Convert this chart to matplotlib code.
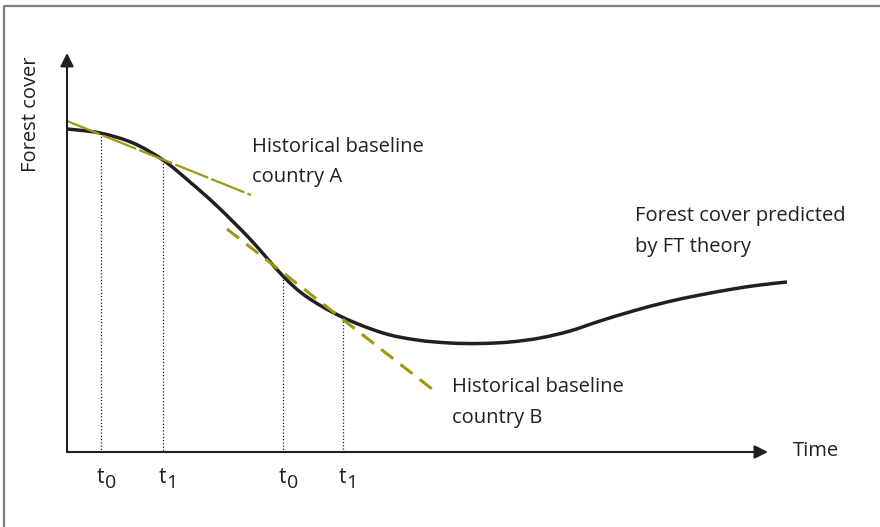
#!/usr/bin/env python3
# Forest transition sketch: forest cover over time with two historical baselines
import numpy as np
import matplotlib
matplotlib.use('Agg')
import matplotlib.pyplot as plt
from matplotlib.path import Path
from matplotlib.patches import PathPatch

# curve (x = time, y = cover, in picture units, y grows downward)
time_pts  = [67, 100, 133, 163, 190, 217, 250, 283, 307, 342, 383, 417, 450,
             480, 510, 540, 570, 600, 633, 667, 700, 733, 760, 787]
cover_pts = [129, 133, 143, 160, 182, 206, 239, 276, 297, 317, 333, 340, 343,
             343.5, 342, 338, 331, 321, 311, 302, 295, 289, 285, 282]

# baselines (start / end points of the dashed lines)
base_a_t = [67, 251]
base_a_c = [121, 195]
base_b_t = [227, 432]
base_b_c = [229, 389]

# reference times, the cover there, and their labels
t_marks = [101, 163, 283, 343]
t_cover = [133, 160, 276, 318]
t_subs = ['0', '1', '0', '1']

axis_y = 452
axis_x = 67
ink = '#231f20'
olive = '#9c9a10'


def smooth_path(xs, ys):
    # catmull-rom through the points, drawn as cubic bezier segments
    p = np.column_stack([xs, ys]).astype(float)
    verts = [p[0]]
    codes = [Path.MOVETO]
    n = len(p)
    for i in range(n - 1):
        p0 = p[i - 1] if i > 0 else p[i]
        p3 = p[i + 2] if i + 2 < n else p[i + 1]
        c1 = p[i] + (p[i + 1] - p0) / 6
        c2 = p[i + 1] - (p3 - p[i]) / 6
        verts += [c1, c2, p[i + 1]]
        codes += [Path.CURVE4] * 3
    return Path(verts, codes)


plt.rcParams['font.family'] = ['Open Sans', 'DejaVu Sans']

fig = plt.figure(figsize=(8.8, 5.27), dpi=100)
ax = fig.add_axes([0, 0, 1, 1])
ax.set_xlim(0, 880)
ax.set_ylim(527, 0)
ax.axis('off')

# frame (left and top visible)
ax.plot([4, 4, 880], [527, 6, 6], color='#808080', lw=1.6, solid_capstyle='butt')

# axes with arrow heads
arr = dict(arrowstyle='-|>', lw=1.5, mutation_scale=20, color=ink, shrinkA=0, shrinkB=0)
ax.annotate('', xy=(768, axis_y), xytext=(axis_x, axis_y), arrowprops=arr)
ax.annotate('', xy=(axis_x, 53), xytext=(axis_x, axis_y), arrowprops=arr)

# dotted drop lines
ax.vlines(t_marks, t_cover, axis_y, colors=ink, lw=0.9, linestyles=(0, (1, 1.6)))

# baselines
ax.plot(base_a_t, base_a_c, color=olive, lw=1.6, ls=(0, (16, 1.5)))
ax.plot(base_b_t, base_b_c, color=olive, lw=2.2, ls=(0, (5, 3)))

# forest cover curve
ax.add_patch(PathPatch(smooth_path(time_pts, cover_pts), facecolor='none',
                       edgecolor=ink, lw=2.5, capstyle='butt', joinstyle='round'))

fs = 14.5
for x, sub in zip(t_marks, t_subs):
    ax.text(x + 3, 483, 't', fontsize=15, color=ink, ha='right', va='baseline')
    ax.text(x + 3.5, 488, sub, fontsize=14, color=ink, ha='left', va='baseline')

ax.text(31, 114, 'Forest cover', fontsize=fs, color=ink, rotation=90, ha='center', va='center')
ax.text(793, 456, 'Time', fontsize=fs, color=ink, ha='left', va='baseline')
ax.text(252, 182, 'Historical baseline\ncountry A', fontsize=fs, color=ink,
        ha='left', va='baseline', linespacing=1.7)
ax.text(452, 423, 'Historical baseline\ncountry B', fontsize=fs, color=ink,
        ha='left', va='baseline', linespacing=1.7)
ax.text(635, 252, 'Forest cover predicted\nby FT theory', fontsize=fs, color=ink,
        ha='left', va='baseline', linespacing=1.7)

fig.savefig('out.png', dpi=100)
